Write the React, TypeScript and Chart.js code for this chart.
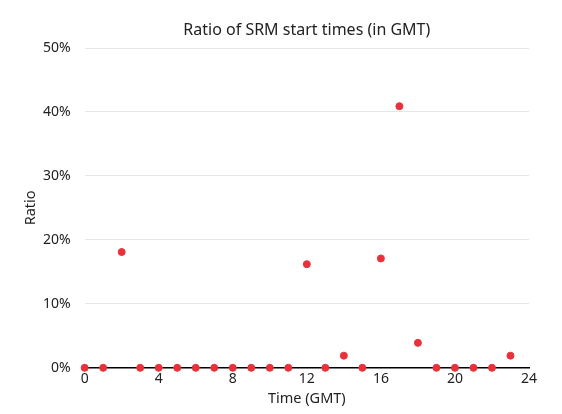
import React, { useEffect, useRef } from "react";
import { Chart, registerables } from "chart.js";

Chart.register(...registerables);

const hours = [0, 1, 2, 3, 4, 5, 6, 7, 8, 9, 10, 11, 12, 13, 14, 15, 16, 17, 18, 19, 20, 21, 22, 23];
const ratios = [0, 0, 18.1, 0, 0, 0, 0, 0, 0, 0, 0, 0, 16.2, 0, 1.9, 0, 17.1, 40.9, 3.9, 0, 0, 0, 0, 1.9];
const chartTitle = "Ratio of SRM start times (in GMT)";
const xTitle = "Time (GMT)";
const yTitle = "Ratio";

export default function App() {
  const ref = useRef<HTMLCanvasElement | null>(null);
  useEffect(() => {
    document.body.style.margin = "0";
    const font = "'Noto Sans', sans-serif";
    Chart.defaults.font.family = font;
    const titlePlugin = {
      id: "areaTitle",
      afterDraw(c: any) {
        const ctx = c.ctx;
        const a = c.chartArea;
        ctx.save();
        ctx.fillStyle = "#222";
        ctx.font = "16px " + font;
        ctx.textAlign = "center";
        ctx.textBaseline = "middle";
        ctx.fillText(chartTitle, (a.left + a.right) / 2, 30);
        ctx.font = "14.5px " + font;
        ctx.translate(31, (a.top + a.bottom) / 2);
        ctx.rotate(-Math.PI / 2);
        ctx.fillText(yTitle, 0, 0);
        ctx.restore();
      },
    };
    const chart = new Chart(ref.current!, {
      type: "scatter",
      data: {
        datasets: [
          {
            data: hours.map((h, i) => ({ x: h, y: ratios[i] })),
            backgroundColor: "#e8313a",
            borderColor: "#e8313a",
            pointRadius: 3.5,
            pointHoverRadius: 3.5,
            clip: false,
          },
        ],
      },
      options: {
        animation: false,
        responsive: false,
        layout: { padding: { left: 29, right: 33, top: 48, bottom: 2 } },
        plugins: {
          legend: { display: false },
          tooltip: { enabled: false },
          title: { display: false },
        },
        scales: {
          x: {
            type: "linear",
            min: 0,
            max: 24,
            ticks: { stepSize: 4, color: "#222", font: { size: 14, family: font }, padding: 3 },
            grid: { display: false, drawTicks: false },
            border: { display: true, color: "#000", width: 1.5 },
            title: { display: true, text: xTitle, color: "#222", font: { size: 14.5, family: font }, padding: { top: 0 } },
          },
          y: {
            min: 0,
            max: 50,
            ticks: {
              stepSize: 10,
              color: "#222",
              font: { size: 14, family: font },
              padding: 14,
              callback: (v: any) => v + "%",
            },
            grid: { color: "#e6e6e6", drawTicks: false },
            border: { display: false },
            title: { display: false },
          },
        },
      },
      plugins: [titlePlugin],
    });
    return () => chart.destroy();
  }, []);
  return (
    <div style={{ width: 562, height: 414 }}>
      <canvas ref={ref} width={562} height={414} />
    </div>
  );
}
